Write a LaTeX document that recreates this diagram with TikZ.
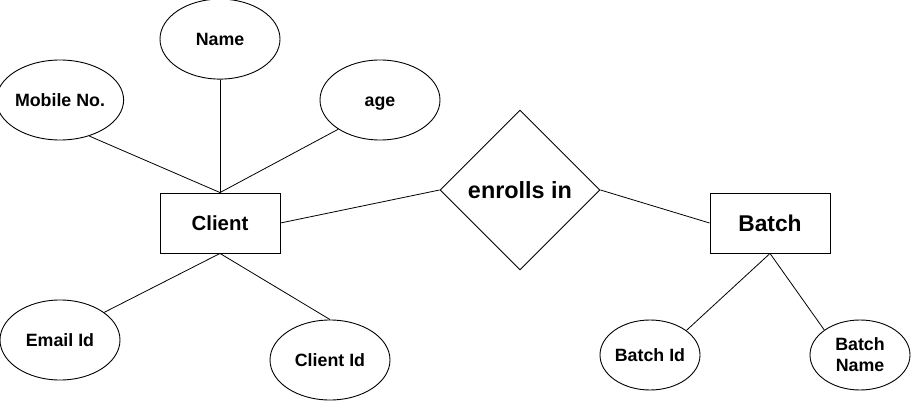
\documentclass[tikz,border=0pt]{standalone}
\usepackage{fontspec}
\setmainfont{Liberation Sans}
\usetikzlibrary{shapes.geometric}
\usetikzlibrary{positioning}
\tikzset{entity/.style={draw, rectangle, minimum width=120pt, minimum height=60pt,
inner sep=0pt, font=\bfseries\fontsize{20.4}{24}\selectfont},
attrib/.style={draw, ellipse, minimum width=120pt, minimum height=80pt,
inner sep=0pt, align=center, font=\bfseries\fontsize{17.8}{21}\selectfont},
smallattrib/.style={attrib, minimum width=100pt, minimum height=70pt},
relation/.style={draw, diamond, minimum width=160pt, minimum height=160pt,
inner sep=0pt, font=\bfseries\fontsize{23.4}{28}\selectfont}}
\begin{document}
\begin{tikzpicture}[x=1pt, y=-1pt, line width=0.9pt, link/.style={draw, line width=0.8pt}]
	\useasboundingbox (0,0) rectangle (911,401);
	% entities and relationship
	\node[entity] (client) at (220,223) {Client};
	\node[relation] (enroll) at (520,190) {enrolls in};
	\node[entity, font=\bfseries\fontsize{22.8}{27}\selectfont] (batch) at (770,223) {Batch};
	% attributes of Client
	\node[attrib, above=113pt of client] (name) {Name};
	\node[attrib] (mobile) at (60,100) {Mobile No.};
	\node[attrib, text height=12.7pt, text depth=0pt] (age) at (380,100) {age};
	\node[attrib] (email) at (60,340) {Email Id};
	\node[attrib] (clientid) at (330,360) {Client Id};
	% attributes of Batch
	\node[smallattrib] (batchid) at (650,355) {Batch Id};
	\node[smallattrib] (batchname) at (860,355) {Batch\\Name};
	% links
	\path[link] (mobile.-51) -- (client.north);
	\path[link] (name.south) -- (client.north);
	\path[link] (age.-145) -- (client.north);
	\path[link] (client.south) -- (email.32);
	\path[link] (client.south) -- (clientid.north);
	\path[link] (client.east) -- (enroll.west);
	\path[link] (enroll.east) -- (batch.west);
	\path[link] (batch.south) -- (batchid.34);
	\path[link] (batch.south) -- (batchname.145);
\end{tikzpicture}
\end{document}
